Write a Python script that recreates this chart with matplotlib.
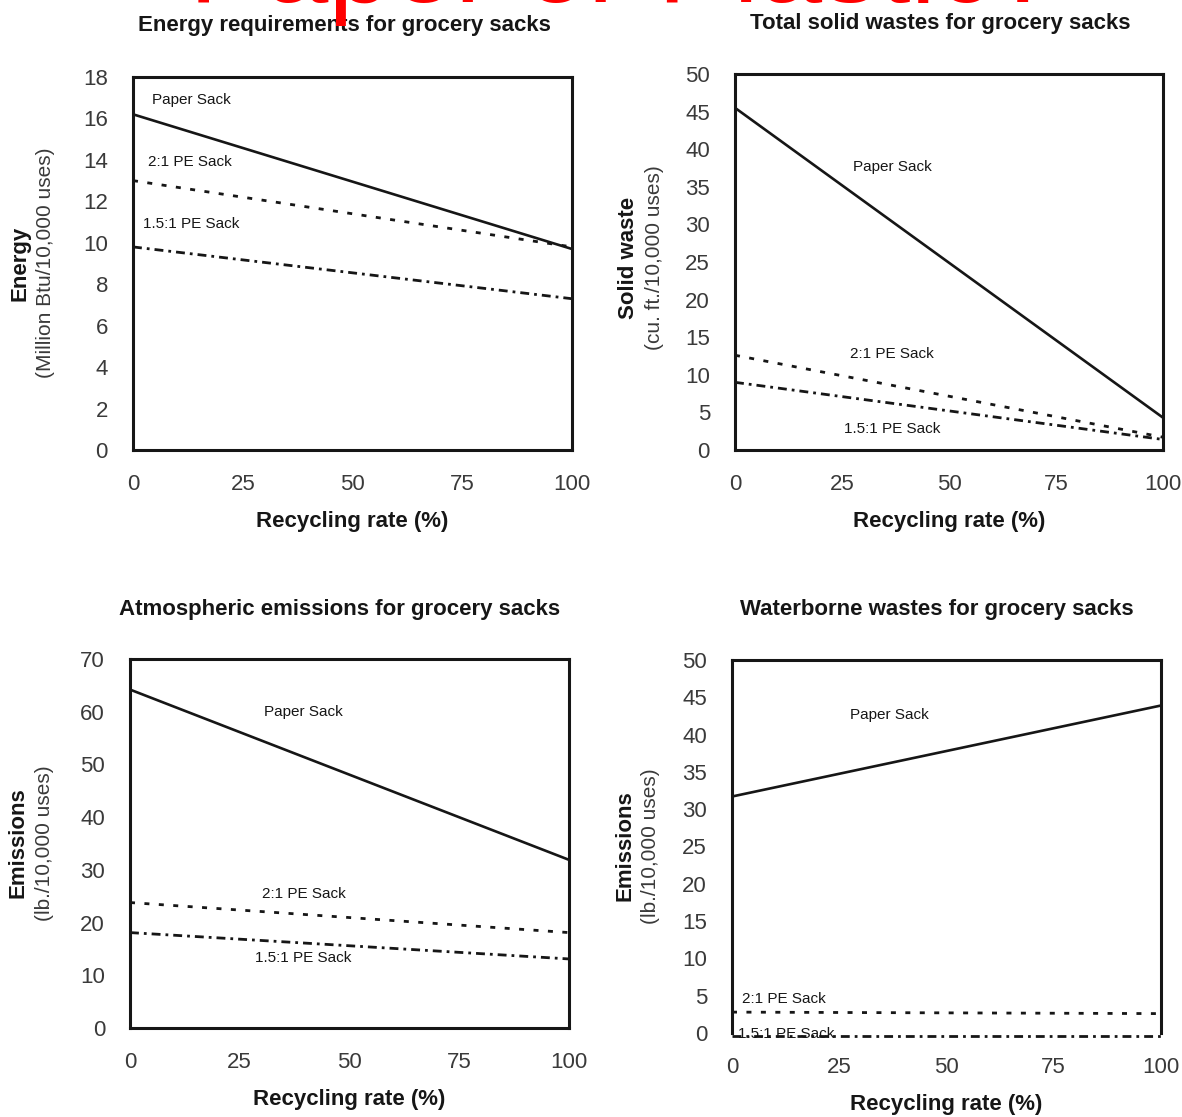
import numpy as np
import matplotlib
matplotlib.use("Agg")
import matplotlib.pyplot as plt

plt.rcParams['font.family'] = ['Liberation Sans', 'DejaVu Sans']

# recycling rate (%)
rate = [0, 100]

# energy (million Btu / 10,000 uses)
energy_paper = [16.2, 9.7]
energy_pe2 = [13.0, 9.8]
energy_pe15 = [9.8, 7.3]

# solid waste (cu. ft. / 10,000 uses)
solid_paper = [45.5, 4.3]
solid_pe2 = [12.6, 1.7]
solid_pe15 = [9.0, 1.4]

# atmospheric emissions (lb. / 10,000 uses)
air_paper = [64.2, 31.9]
air_pe2 = [23.8, 18.1]
air_pe15 = [18.1, 13.1]

# waterborne wastes (lb. / 10,000 uses)
water_paper = [31.7, 43.9]
water_pe2 = [2.8, 2.6]
water_pe15 = [-0.4, -0.4]

xticks = [0, 25, 50, 75, 100]

INK = '#161616'
GREY = '#3a3a3a'

fig = plt.figure(figsize=(11.82, 11.17), dpi=100)
W, H = 1182, 1117


def px_axes(l, r, t, b):
    return fig.add_axes([l / W, 1 - b / H, (r - l) / W, (b - t) / H])


def draw_panel(ax, paper, pe2, pe15, ymax, ystep, labels, hide_bottom=False):
    ax.plot(rate, paper, color=INK, lw=1.9, solid_capstyle='butt', clip_on=False)
    ax.plot(rate, pe2, color=INK, lw=2.0, dashes=(1.8, 3.4), clip_on=False)
    ax.plot(rate, pe15, color=INK, lw=2.0, dashes=(3.2, 1.8, 1.0, 1.8), clip_on=False)
    ax.set_xlim(0, 100)
    ax.set_ylim(0, ymax)
    ax.set_xticks(xticks)
    ax.set_yticks(np.arange(0, ymax + 0.1, ystep))
    ax.tick_params(which='major', length=0, labelsize=16, labelcolor=GREY)
    ax.tick_params(axis='x', which='major', pad=17)
    ax.tick_params(axis='y', which='major', pad=18)
    ax.set_xticks([0, 100], minor=True)
    ax.set_yticks([0, ymax], minor=True)
    ax.tick_params(which='minor', direction='out', length=9, width=2.0, color=INK)
    if hide_bottom:
        ax.spines['bottom'].set_visible(False)
        ax.tick_params(axis='y', which='minor', direction='inout', length=14)
    for s in ax.spines.values():
        s.set_linewidth(2.2)
        s.set_color(INK)
    for txt, x, y, ha in labels:
        ax.text(x, y, txt, fontsize=11, ha=ha, va='center', color=INK)
    ax.set_xlabel('Recycling rate (%)', fontsize=16, fontweight='bold', color=INK, labelpad=12)


ax1 = px_axes(133, 572, 77, 450)
draw_panel(ax1, energy_paper, energy_pe2, energy_pe15, 18, 2,
           [('Paper Sack', 4.3, 16.9, 'left'), ('2:1 PE Sack', 3.4, 13.9, 'left'),
            ('1.5:1 PE Sack', 2.3, 10.9, 'left')])

ax2 = px_axes(735, 1163, 74, 450)
draw_panel(ax2, solid_paper, solid_pe2, solid_pe15, 50, 5,
           [('Paper Sack', 36.7, 37.6, 'center'), ('2:1 PE Sack', 36.7, 12.8, 'center'),
            ('1.5:1 PE Sack', 36.7, 2.8, 'center')])

ax3 = px_axes(130, 569, 659, 1028)
draw_panel(ax3, air_paper, air_pe2, air_pe15, 70, 10,
           [('Paper Sack', 39.6, 60.0, 'center'), ('2:1 PE Sack', 39.6, 25.4, 'center'),
            ('1.5:1 PE Sack', 39.4, 13.3, 'center')])

ax4 = px_axes(732, 1161, 660, 1033)
draw_panel(ax4, water_paper, water_pe2, water_pe15, 50, 5,
           [('Paper Sack', 36.8, 42.6, 'center'), ('2:1 PE Sack', 2.3, 4.6, 'left'),
            ('1.5:1 PE Sack', 1.4, -0.2, 'left')], hide_bottom=True)

# panel titles
titles = [('Energy requirements for grocery sacks', 344, 25),
          ('Total solid wastes for grocery sacks', 940, 23),
          ('Atmospheric emissions for grocery sacks', 340, 609),
          ('Waterborne wastes for grocery sacks', 937, 609)]
for t, x, y in titles:
    fig.text(x / W, 1 - y / H, t, fontsize=16, fontweight='bold', color=INK,
             ha='center', va='center')

# y axis labels (bold name + unit line)
ylabels = [('Energy', '(Million Btu/10,000 uses)', 20, 46, 263),
           ('Solid waste', '(cu. ft./10,000 uses)', 628, 655, 258),
           ('Emissions', '(lb./10,000 uses)', 18, 45, 843),
           ('Emissions', '(lb./10,000 uses)', 625, 651, 846)]
for name, unit, x1, x2, y in ylabels:
    fig.text(x1 / W, 1 - y / H, name, fontsize=16, fontweight='bold', color=INK,
             rotation=90, ha='center', va='center')
    fig.text(x2 / W, 1 - y / H, unit, fontsize=15, color=GREY,
             rotation=90, ha='center', va='center')

# big red heading, cut off by the top edge
fig.text(189 / W, 1 - 2 / H, 'Paper or Plastic?', fontsize=82, color='#ff0000',
         ha='left', va='baseline')

fig.savefig('out.png', dpi=100)
